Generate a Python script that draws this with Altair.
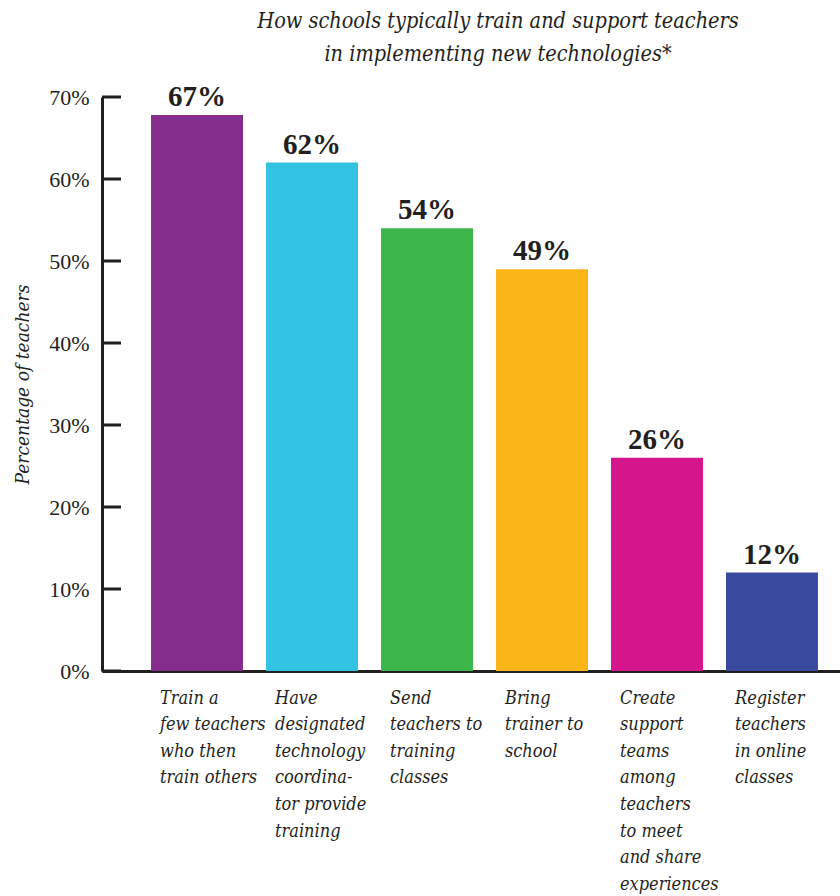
import altair as alt
import pandas as pd

categories = [
    "Train a|few teachers|who then|train others",
    "Have|designated|technology|coordina-|tor provide|training",
    "Send|teachers to|training|classes",
    "Bring|trainer to|school",
    "Create|support|teams|among|teachers|to meet|and share|experiences",
    "Register|teachers|in online|classes",
]
values = [67.8, 62, 54, 49, 26, 12]
value_labels = ["67%", "62%", "54%", "49%", "26%", "12%"]
colors = ["#842d8c", "#32c3e3", "#3cb54a", "#fbb519", "#d4158c", "#3a4a9f"]
y_ticks = [0, 10, 20, 30, 40, 50, 60, 70]
title_lines = [
    "How schools typically train and support teachers",
    "in implementing new technologies*",
]
y_title = "Percentage of teachers"

FONT = "'Liberation Serif', 'Times New Roman', 'DejaVu Serif', serif"
IFONT = "'DejaVu Serif Condensed', 'DejaVu Serif', serif"
INK = "#231f20"

df = pd.DataFrame({"cat": categories, "value": values, "label": value_labels})
ticks_df = pd.DataFrame({"t": y_ticks})

x_enc = alt.X(
    "cat:N",
    sort=categories,
    scale=alt.Scale(paddingInner=0.2, paddingOuter=0.309, align=0.69),
    axis=alt.Axis(
        title=None,
        labelAngle=0,
        labelAlign="left",
        labelBaseline="top",
        labelOffset=-37,
        labelPadding=18,
        labelExpr="split(datum.label, '|')",
        labelFont=IFONT,
        labelFontStyle="italic",
        labelFontSize=18,
        labelLineHeight=26.6,
        labelColor=INK,
        labelLimit=0,
        ticks=False,
        domainColor=INK,
        domainWidth=3,
    ),
)

y_enc = alt.Y(
    "value:Q",
    scale=alt.Scale(domain=[0, 70], nice=False),
    axis=alt.Axis(
        values=y_ticks,
        labelExpr="datum.value + '%'",
        ticks=False,
        grid=False,
        labelPadding=13,
        labelFont=FONT,
        labelFontSize=22,
        labelColor=INK,
        domainColor=INK,
        domainWidth=3,
        title=y_title,
        titleFont=IFONT,
        titleFontStyle="italic",
        titleFontWeight="normal",
        titleFontSize=19,
        titleColor=INK,
        titlePadding=16,
    ),
)

bars = alt.Chart(df).mark_bar().encode(
    x=x_enc,
    y=y_enc,
    color=alt.Color("cat:N", scale=alt.Scale(domain=categories, range=colors), legend=None),
)

text = alt.Chart(df).mark_text(
    dy=-9, baseline="alphabetic", font=FONT, fontWeight="bold", fontSize=29, color=INK
).encode(x=alt.X("cat:N", sort=categories), y=alt.Y("value:Q"), text="label:N")

ticks = alt.Chart(ticks_df).mark_rule(color=INK, strokeWidth=3).encode(
    y=alt.Y("t:Q"), x=alt.value(0), x2=alt.value(19)
)

chart = alt.layer(bars, text, ticks).properties(
    width=738,
    height=574,
    padding={"left": 13, "top": 10, "right": 0, "bottom": 0},
    title=alt.TitleParams(
        text=title_lines,
        font=IFONT,
        fontStyle="italic",
        fontWeight="normal",
        fontSize=21.5,
        lineHeight=33,
        anchor="middle",
        dx=27,
        offset=18,
        color=INK,
    ),
).configure_view(stroke=None)

chart.save("out.html", embed_options={"renderer": "svg", "actions": False})
